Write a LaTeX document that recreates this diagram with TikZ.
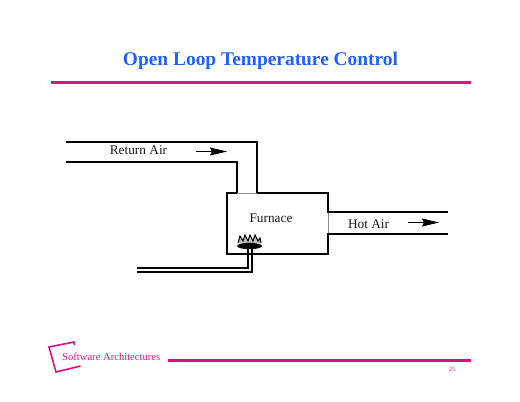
\documentclass[tikz,border=0pt]{standalone}
\usepackage{fontspec}
\setmainfont{Liberation Serif}
\usetikzlibrary{arrows.meta}
\definecolor{pinkline}{HTML}{E0107F}
\definecolor{titleblue}{HTML}{2060FF}
\tikzset{
  pipe/.style={draw=black,line width=1.5pt,line join=miter},
  thin pipe/.style={draw=black,line width=1.2pt,line join=miter},
  opening/.style={draw=black!45,line width=0.6pt},
  rule/.style={draw=pinkline,line width=2.9pt},
  label/.style={inner sep=0pt,font=\fontsize{13.3}{15}\selectfont,text=black!90},
  flow/.style={draw=black,line width=1.2pt,-{Stealth[length=17pt,width=8pt,inset=2pt]}},
  furnacebox/.style={draw=black,line width=1.5pt,minimum width=101pt,minimum height=61pt,inner sep=0pt,outer sep=0pt,anchor=north west}
}
\begin{document}
\begin{tikzpicture}[x=1pt,y=-1pt]
\useasboundingbox (0,0) rectangle (520,402);
% title
\node[inner sep=0pt,text=titleblue,font=\fontsize{19.4}{23}\bfseries\selectfont] (title) at (260.5,60.5) {Open Loop Temperature Control};
\coordinate (ruleL) at (51,82.5); \coordinate (ruleR) at (471,82.5);
\draw[rule] (ruleL) -- (ruleR);
% furnace
\node[furnacebox] (furnace) at (227,193) {};
\node[label] (furnacelabel) at (271,218.5) {Furnace};
% return duct
\coordinate (retA) at (66,142); \coordinate (retB) at (257,142); \coordinate (retC) at (257,193);
\coordinate (retD) at (66,162); \coordinate (retE) at (237,162); \coordinate (retF) at (237,193);
\draw[draw=white,line width=2pt] (238,193) -- (256,193);
\draw[opening] (237,193) -- (257,193);
\draw[pipe] (retA) -- (retB) -- (retC);
\draw[pipe] (retD) -- (retE) -- (retF);
\node[label] (retlabel) at (138.5,150.5) {Return Air};
\coordinate (retflowA) at (196,151.5); \coordinate (retflowB) at (227,151.5);
\draw[flow] (retflowA) -- (retflowB);
% hot duct
\coordinate (hotA) at (328,212); \coordinate (hotB) at (448,212);
\coordinate (hotC) at (328,234); \coordinate (hotD) at (448,234);
\draw[draw=white,line width=2pt] (328,213) -- (328,233);
\draw[opening] (328,212) -- (328,234);
\draw[pipe] (hotA) -- (hotB);
\draw[pipe] (hotC) -- (hotD);
\node[label] (hotlabel) at (368.5,224) {Hot Air};
\coordinate (hotflowA) at (408,222.5); \coordinate (hotflowB) at (439,222.5);
\draw[flow] (hotflowA) -- (hotflowB);
% burner
\draw[black,fill=black!25,line width=1pt,line join=miter]
  (238,243) -- (240,236) -- (243,241) -- (245,235) -- (248,241) -- (250,235)
  -- (253,241) -- (255,235) -- (258,241) -- (260,238) -- (261,243);
\fill[black] (249.5,246) ellipse (12.5pt and 3.2pt);
% gas pipe
\coordinate (gasA) at (137,268); \coordinate (gasB) at (248,268); \coordinate (gasC) at (248,248);
\coordinate (gasD) at (137,272); \coordinate (gasE) at (252,272); \coordinate (gasF) at (252,248);
\draw[thin pipe] (gasA) -- (gasB) -- (gasC);
\draw[thin pipe] (gasD) -- (gasE) -- (gasF);
% footer
\draw[draw=pinkline,line width=1.6pt,line join=miter] (74.5,345) -- (74,342) -- (49,347) -- (56,372) -- (80.5,366);
\node[inner sep=0pt,anchor=west,text=pinkline,font=\fontsize{10.6}{13}\selectfont] (footer) at (62,357) {Software Architectures};
\coordinate (footL) at (168,360.5); \coordinate (footR) at (471,360.5);
\draw[rule] (footL) -- (footR);
\node[inner sep=0pt,text=pinkline,font=\fontsize{6.5}{8}\selectfont] (page) at (452,369) {25};
\end{tikzpicture}
\end{document}
